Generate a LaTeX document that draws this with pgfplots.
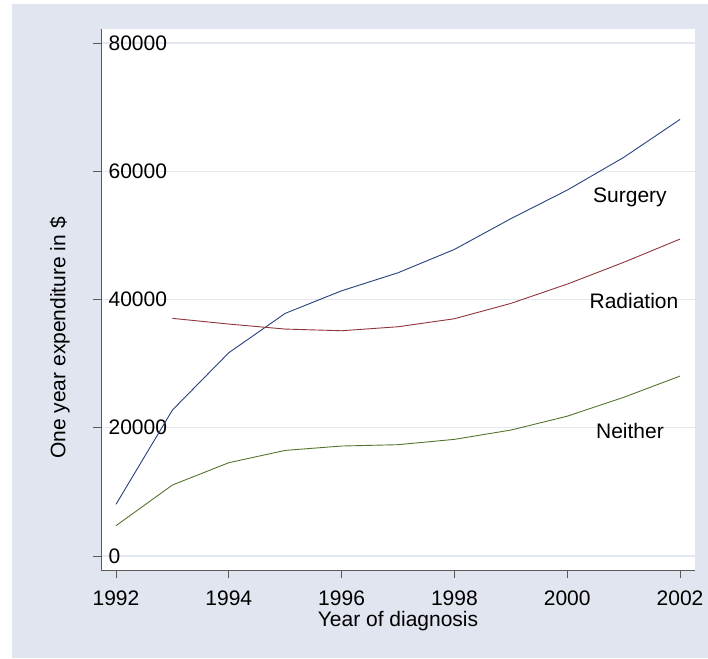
\documentclass[border=0pt]{standalone}
\usepackage{pgfplots}
\pgfplotsset{compat=1.18}
\usepackage{fontspec}
\setmainfont{Liberation Sans}
\definecolor{bgblue}{RGB}{224,229,239}
\definecolor{gridc}{RGB}{228,232,241}
\definecolor{surg}{RGB}{40,65,125}
\definecolor{radc}{RGB}{144,53,59}
\definecolor{neic}{RGB}{85,117,47}
\definecolor{axc}{RGB}{90,90,90}
\begin{document}
\fontsize{21}{25}\selectfont
\begin{tikzpicture}
\fill[white] (0pt,0pt) rectangle (708pt,-658pt);
\fill[bgblue] (12pt,-4pt) rectangle (708pt,-658pt);
\begin{axis}[
  at={(101pt,-570pt)}, anchor=south west,
  scale only axis, width=594pt, height=541pt,
  xmin=1991.734, xmax=2002.266,
  ymin=-2183, ymax=82183,
  axis x line*=bottom, axis y line*=left,
  axis line style={axc, line width=1pt, -},
  axis background/.style={fill=white},
  xtick={1992,1994,...,2002},
  ytick={0,20000,40000,60000,80000},
  scaled y ticks=false,
  /pgf/number format/.cd, set thousands separator={}, 1000 sep={}, assume math mode=true,
  /pgfplots/.cd,
  xticklabel={\pgfmathprintnumber[1000 sep={},fixed]{\tick}},
  tick align=outside,
  major tick length=8pt,
  tick style={axc, line width=0.8pt},
  ymajorgrids,
  grid style={gridc, line width=1.2pt},
  ticklabel style={font=\fontsize{21}{25}\selectfont, inner sep=0pt},
  yticklabel style={anchor=west, xshift=15.4pt},
  xticklabel style={anchor=base, yshift=-27pt},
  clip=false,
]
\addplot[surg, line width=0.9pt] coordinates {
(1992,8060) (1993,22760) (1994,31700) (1995,37840) (1996,41360) (1997,44170)
(1998,47810) (1999,52600) (2000,57060) (2001,62150) (2002,68080)};
\addplot[radc, line width=0.9pt] coordinates {
(1993,37060) (1994,36170) (1995,35390) (1996,35130) (1997,35750)
(1998,37000) (1999,39390) (2000,42400) (2001,45790) (2002,49420)};
\addplot[neic, line width=0.9pt] coordinates {
(1992,4730) (1993,11070) (1994,14550) (1995,16470) (1996,17150) (1997,17360)
(1998,18190) (1999,19640) (2000,21800) (2001,24740) (2002,28060)};
\node[anchor=base, inner sep=0pt] at (axis cs:2001.113,55094) {Surgery};
\node[anchor=base, inner sep=0pt] at (axis cs:2001.184,38673) {Radiation};
\node[anchor=base, inner sep=0pt] at (axis cs:2001.113,18401) {Neither};
\end{axis}
\node[anchor=base, inner sep=0pt, rotate=90] at (65.3pt,-338pt) {One year expenditure in \$};
\node[anchor=base, inner sep=0pt] at (398pt,-626pt) {Year of diagnosis};
\end{tikzpicture}
\end{document}
